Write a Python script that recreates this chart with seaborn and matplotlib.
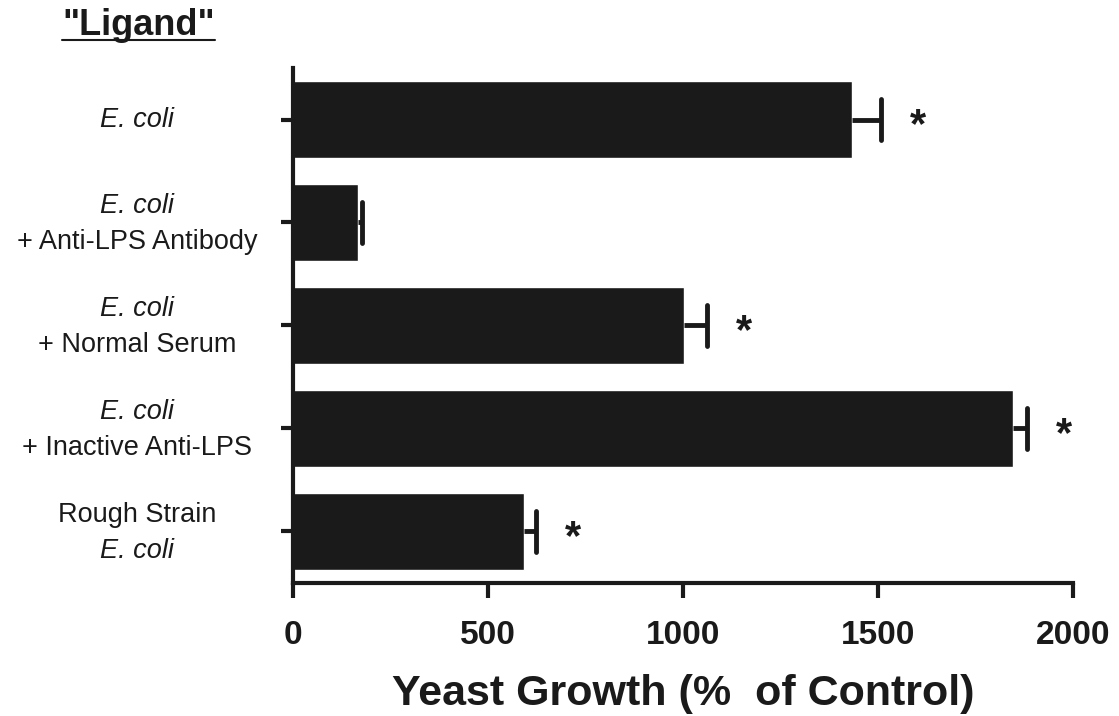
import numpy as np
import pandas as pd
import matplotlib
matplotlib.use("Agg")
import matplotlib.pyplot as plt
import seaborn as sns
from matplotlib.lines import Line2D

# dati
gruppi = ["g1", "g2", "g3", "g4", "g5"]
riga1 = ["E. coli", "E. coli", "E. coli", "E. coli", "Rough Strain"]
riga2 = ["", "+ Anti-LPS Antibody", "+ Normal Serum", "+ Inactive Anti-LPS", "E. coli"]
corsivo1 = [True, True, True, True, False]
corsivo2 = [False, False, False, False, True]
crescita = [1433, 166, 1003, 1846, 592]
errore = [75, 10, 59, 36, 31]
significativo = [True, False, True, True, True]

sns.set_style("white")
plt.rcParams["font.family"] = ["Liberation Sans", "DejaVu Sans"]
nero = "#1a1a1a"

df = pd.DataFrame({"gruppo": gruppi, "crescita": crescita})

fig = plt.figure(figsize=(11.19, 7.16), dpi=100)
ax = fig.add_axes([0.262, 0.186, 0.697, 0.719])

sns.barplot(data=df, x="crescita", y="gruppo", orient="h", color=nero,
            saturation=1, width=0.75, errorbar=None, ax=ax)

# barre di errore solo verso destra
y = np.arange(len(gruppi))
fine = np.array(crescita) + np.array(errore)
ax.hlines(y, crescita, fine, color=nero, linewidth=3.5)
ax.vlines(fine, y - 0.2, y + 0.2, color=nero, linewidth=3.5, capstyle="round")

for i, s in enumerate(significativo):
    if s:
        ax.annotate("*", xy=(fine[i] + 95, i), xycoords="data",
                    xytext=(0, -13), textcoords="offset points",
                    ha="center", va="baseline", fontsize=30, fontweight="bold",
                    color=nero)

ax.set_xlim(0, 2000)
ax.set_ylim(4.5, -0.5)
ax.set_xticks([0, 500, 1000, 1500, 2000])
ax.set_yticks(y)
ax.set_yticklabels([])
ax.set_ylabel("")
ax.set_xlabel("Yeast Growth (%  of Control)", fontsize=31, fontweight="bold",
              labelpad=16, color=nero)
for lab in ax.get_xticklabels():
    lab.set_fontsize(24)
    lab.set_fontweight("bold")
    lab.set_color(nero)

sns.despine(ax=ax)
for sp in ["left", "bottom"]:
    ax.spines[sp].set_linewidth(3)
    ax.spines[sp].set_color(nero)
ax.tick_params(axis="x", length=11, width=3, color=nero, pad=16, bottom=True)
ax.tick_params(axis="y", length=9, width=3, color=nero, left=True)

# etichette asse y su due righe (una in corsivo)
for i in range(len(gruppi)):
    if riga2[i] == "":
        pos = [(riga1[i], corsivo1[i], 0)]
    else:
        pos = [(riga1[i], corsivo1[i], 12), (riga2[i], corsivo2[i], -14)]
    for testo, it, dy in pos:
        ax.annotate(testo, xy=(-0.2, i), xycoords=("axes fraction", "data"),
                    xytext=(0, dy), textcoords="offset points",
                    ha="center", va="center", fontsize=19.5,
                    fontstyle="italic" if it else "normal", color=nero)

# titolo sottolineato
tit = fig.text(0.124, 0.965, '"Ligand"', ha="center", va="center", fontsize=26,
               fontweight="bold", color=nero)
fig.canvas.draw()
bb = tit.get_window_extent().transformed(fig.transFigure.inverted())
fig.add_artist(Line2D([bb.x0, bb.x1], [bb.y0 + 0.004, bb.y0 + 0.004],
                      transform=fig.transFigure, color=nero, linewidth=1.5))

fig.savefig("out.png", dpi=100)
